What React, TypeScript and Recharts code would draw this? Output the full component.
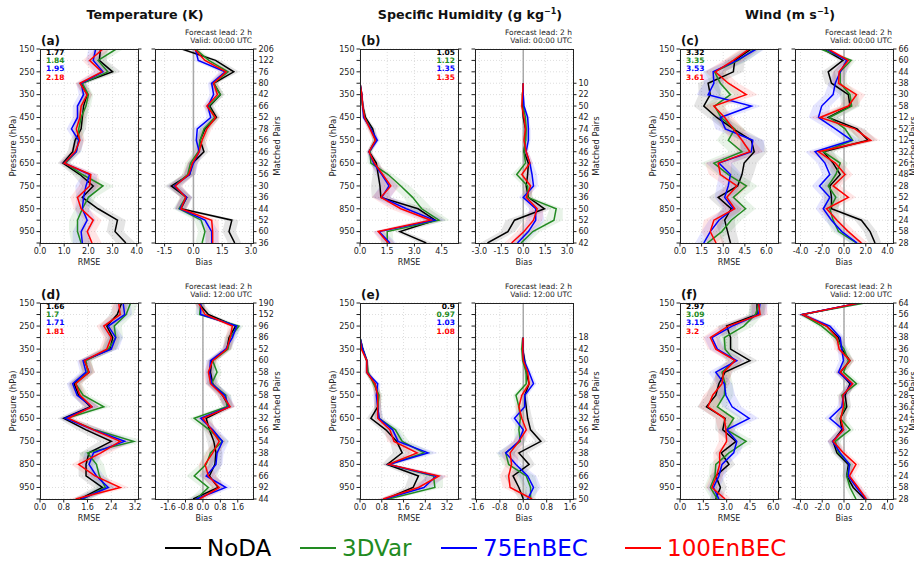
import { ComposedChart, Line, Area, XAxis, YAxis, CartesianGrid, ReferenceLine } from "recharts"

const levels = [150, 200, 250, 300, 350, 400, 450, 500, 550, 600, 650, 700, 750, 800, 850, 900, 950, 1000]
const levelsQ = [300, 350, 400, 450, 500, 550, 600, 650, 700, 750, 800, 850, 900, 950, 1000]

const names = ["NoDA", "3DVar", "75EnBEC", "100EnBEC"]
const colors = ["#000000", "#228b22", "#0000ff", "#ff0000"]

// (a) temperature, 00 UTC  -- rows: NoDA, 3DVar, 75EnBEC, 100EnBEC
const tempRmse00 = [
  [2.5, 2.45, 3.0, 1.7, 1.95, 1.8, 1.75, 1.7, 1.45, 1.35, 0.95, 1.65, 2.2, 1.75, 2.4, 3.2, 3.1, 3.55],
  [3.15, 2.4, 2.8, 1.75, 2.0, 1.9, 1.7, 1.6, 1.6, 1.5, 1.05, 1.75, 2.6, 2.0, 1.75, 1.55, 1.55, 1.7],
  [2.3, 2.2, 2.6, 1.7, 1.8, 1.55, 1.55, 1.3, 1.6, 1.5, 1.0, 2.05, 1.9, 1.8, 1.75, 1.95, 1.7, 1.75],
  [2.6, 2.05, 2.55, 1.65, 1.95, 1.7, 1.65, 1.5, 1.65, 1.45, 1.0, 2.1, 2.05, 1.55, 1.7, 2.2, 1.95, 2.15],
]
const tempRmse00Spread = [0.3, 0.3, 0.35, 0.2, 0.2, 0.2, 0.2, 0.2, 0.2, 0.2, 0.2, 0.3, 0.45, 0.3, 0.3, 0.35, 0.35, 0.4]
const tempBias00 = [
  [-0.6, 1.15, 2.1, 1.05, 1.4, 0.85, 1.2, 0.6, 0.35, 0.55, -0.05, -0.2, -1.15, -0.35, -0.65, 2.0, 1.85, 2.15],
  [0.1, 0.8, 1.8, 1.05, 1.4, 0.8, 1.1, 0.55, 0.35, 0.25, -0.15, -0.3, -1.0, -0.4, -0.75, 0.4, 0.6, 0.45],
  [0.1, 0.25, 1.65, 0.95, 1.05, 0.75, 0.9, 0.2, 0.15, 0.3, 0.0, -0.2, -1.0, -0.35, -0.7, 0.6, 0.95, 0.95],
  [0.05, 0.6, 1.7, 1.05, 1.25, 0.7, 1.15, 0.7, 0.45, 0.3, -0.05, -0.25, -0.95, -0.4, -0.65, 0.95, 1.0, 1.0],
]
const tempBias00Spread = [0.2, 0.25, 0.3, 0.2, 0.2, 0.2, 0.2, 0.25, 0.25, 0.25, 0.25, 0.3, 0.35, 0.3, 0.3, 0.35, 0.35, 0.35]
const tempPairs00 = [206, 122, 76, 80, 42, 66, 52, 78, 56, 46, 32, 56, 30, 36, 44, 52, 60, 36]
const tempMean00 = [1.77, 1.84, 1.95, 2.18]

// (b) specific humidity, 00 UTC
const humRmse00 = [
  [0, 0.1, 0.15, 0.3, 0.7, 0.85, 0.5, 0.9, 1.0, 1.1, 1.15, 3.2, 4.15, 2.2, 3.65],
  [0, 0.05, 0.15, 0.25, 0.6, 0.85, 0.55, 0.6, 1.55, 2.25, 2.9, 3.4, 4.35, 1.5, 1.5],
  [0, 0.1, 0.15, 0.2, 0.6, 0.95, 0.5, 0.75, 1.2, 1.6, 1.2, 2.55, 4.1, 1.05, 1.65],
  [0, 0.1, 0.15, 0.25, 0.55, 0.85, 0.5, 0.8, 1.25, 1.7, 1.15, 2.25, 3.9, 1.0, 1.55],
]
const humRmse00Spread = [0.05, 0.05, 0.08, 0.1, 0.15, 0.15, 0.12, 0.2, 0.3, 0.5, 0.5, 0.6, 0.6, 0.3, 0.35]
const humBias00 = [
  [0, -0.05, -0.05, 0, 0.15, 0.15, 0.05, 0.35, 0.3, 0.2, 0.35, 1.45, -0.6, -1.05, -2.45],
  [0, -0.05, 0, 0.15, 0.2, 0.15, 0.05, 0.15, -0.45, 0.3, 0.3, 2.25, 2.1, 0.65, -0.15],
  [0, 0, 0.05, 0.3, 0.35, 0.35, 0.2, 0.45, 0.6, 0.7, 0, 0.85, 0.85, 0.35, -0.4],
  [0, -0.05, -0.1, 0.05, 0.15, 0.05, 0.2, 0.45, -0.1, 0.5, 0.2, 0.95, 0.7, 0.05, -0.8],
]
const humBias00Spread = [0.05, 0.05, 0.1, 0.1, 0.15, 0.15, 0.15, 0.2, 0.35, 0.3, 0.3, 0.45, 0.6, 0.5, 0.5]
const humPairs00 = [10, 22, 50, 42, 74, 56, 46, 32, 56, 30, 36, 50, 52, 60, 42]
const humMean00 = [1.05, 1.12, 1.35, 1.35]

// (c) wind, 00 UTC
const windRmse00 = [
  [4.95, 3.8, 3.7, 1.95, 2.1, 1.65, 2.55, 3.7, 4.95, 5.15, 4.45, 4.3, 4.0, 2.65, 3.55, 3.1, 3.3, 3.5],
  [5.2, 4.05, 2.4, 2.8, 3.5, 2.4, 2.85, 3.8, 3.35, 4.3, 2.35, 3.35, 4.6, 3.7, 4.55, 3.55, 2.9, 1.9],
  [5.3, 3.95, 2.3, 2.35, 1.95, 4.95, 2.8, 3.15, 5.05, 4.95, 2.7, 3.5, 3.35, 3.1, 3.7, 2.7, 2.1, 1.65],
  [4.8, 3.7, 2.45, 3.35, 4.6, 2.35, 3.1, 3.7, 4.3, 4.85, 2.65, 2.8, 3.95, 3.25, 3.8, 2.35, 2.1, 2.5],
]
const windRmse00Spread = [0.6, 0.7, 0.7, 0.7, 0.8, 0.7, 0.6, 0.7, 0.8, 0.9, 0.9, 0.8, 0.8, 0.7, 0.7, 0.7, 0.6, 0.6]
const windBias00 = [
  [-1.9, -0.1, -1.45, -1.15, 0.4, 0.55, -1.45, 1.2, 2.2, -1.9, -1.0, -0.35, -1.3, -1.15, -1.15, 1.6, 2.4, 2.85],
  [-2.15, 0.65, -0.35, -0.35, 0.55, 0.7, -1.35, 0.1, 0.8, -1.9, -0.35, -0.75, -1.45, -0.75, -1.3, -1.0, -0.5, 1.15],
  [-1.6, 0.25, -0.35, -0.8, -1.0, -2.05, -2.35, -0.8, 0.7, -2.65, -1.75, -1.3, -2.25, -1.3, -1.9, -1.15, -0.2, 1.2],
  [-1.45, 0.4, -0.45, -0.5, 1.15, 0.4, -2.2, 1.0, 2.45, -2.35, -0.8, 0.1, -1.0, 0.4, -1.6, -0.65, 0.4, 1.6],
]
const windBias00Spread = [0.3, 0.4, 0.6, 0.6, 0.8, 0.8, 0.9, 0.7, 0.8, 0.9, 0.7, 0.7, 0.7, 0.7, 0.7, 0.6, 0.6, 0.6]
const windPairs00 = [66, 60, 44, 38, 30, 58, 12, 52, 12, 32, 26, 48, 28, 52, 54, 24, 58, 28]
const windMean00 = [3.32, 3.35, 3.53, 3.61]

// (d) temperature, 12 UTC
const tempRmse12 = [
  [2.75, 2.6, 2.25, 2.45, 2.35, 1.5, 1.65, 1.15, 1.3, 1.7, 0.8, 1.55, 2.4, 1.65, 1.55, 1.55, 2.1, 1.35],
  [3.05, 2.9, 2.5, 2.55, 2.3, 1.55, 1.6, 1.2, 1.45, 2.15, 0.9, 1.85, 3.15, 1.6, 1.9, 2.0, 2.2, 1.45],
  [2.8, 2.85, 2.3, 2.55, 2.4, 1.45, 1.55, 1.1, 1.25, 1.75, 0.85, 1.8, 2.85, 1.8, 1.65, 1.9, 2.3, 1.4],
  [2.65, 2.7, 2.15, 2.4, 2.25, 1.5, 1.65, 1.2, 1.35, 1.75, 0.95, 1.8, 2.7, 2.05, 1.3, 1.85, 2.7, 1.2],
]
const tempRmse12Spread = [0.25, 0.25, 0.25, 0.25, 0.25, 0.2, 0.2, 0.2, 0.2, 0.25, 0.2, 0.3, 0.4, 0.3, 0.25, 0.25, 0.3, 0.25]
const tempBias12 = [
  [-0.2, 0.25, 1.5, 1.2, 1.1, 0.4, 0.35, 0.45, 0.9, 1.2, 0.15, 0.3, 0.5, 0.6, 0.55, 0.3, 0.7, -0.45],
  [-0.1, -0.15, 1.65, 1.25, 1.15, 0.45, 0.65, 0.4, 1.05, 1.1, -0.4, 0.3, 0.9, 0.35, 0.15, -0.4, 0.25, -0.3],
  [-0.1, -0.1, 1.55, 1.35, 1.05, 0.35, 0.3, 0.4, 1.0, 1.2, -0.1, 0.45, 0.9, 0.65, 0.6, 0.15, 1.05, -0.3],
  [-0.2, 0.1, 1.35, 1.25, 1.1, 0.45, 0.25, 0.35, 0.9, 1.25, 0.0, 0.4, 0.75, 0.45, 0.1, 0.25, 0.75, -0.15],
]
const tempBias12Spread = [0.2, 0.2, 0.2, 0.2, 0.2, 0.2, 0.2, 0.25, 0.25, 0.25, 0.25, 0.25, 0.3, 0.3, 0.3, 0.35, 0.3, 0.3]
const tempPairs12 = [190, 152, 96, 86, 52, 60, 58, 76, 58, 44, 32, 56, 54, 38, 44, 66, 92, 44]
const tempMean12 = [1.66, 1.7, 1.71, 1.81]

// (e) specific humidity, 12 UTC
const humRmse12 = [
  [0, 0.1, 0.25, 0.25, 0.55, 0.65, 0.65, 0.4, 0.95, 1.35, 1.55, 1.0, 2.15, 1.95, 0.95],
  [0, 0.1, 0.25, 0.3, 0.5, 0.7, 0.65, 0.7, 1.3, 1.55, 2.35, 1.05, 2.7, 2.75, 1.05],
  [0, 0.1, 0.25, 0.25, 0.65, 0.6, 0.65, 0.7, 1.2, 1.4, 2.5, 1.05, 2.8, 2.35, 0.9],
  [0, 0.05, 0.25, 0.25, 0.55, 0.65, 0.65, 0.65, 1.1, 1.25, 2.1, 1.05, 2.9, 2.15, 0.85],
]
const humRmse12Spread = [0.03, 0.05, 0.05, 0.08, 0.1, 0.12, 0.12, 0.15, 0.2, 0.25, 0.35, 0.2, 0.35, 0.3, 0.2]
const humBias12 = [
  [0, -0.02, 0.05, 0.1, 0.2, 0.05, 0.1, 0.15, 0.25, 0.6, -0.15, 0.2, -0.35, -0.15, 0],
  [-0.02, -0.05, -0.02, 0.1, 0.1, -0.25, -0.15, -0.1, -0.15, -0.1, -0.6, -0.5, 0.1, 0.25, 0.25],
  [0, -0.02, 0.03, 0.2, 0.35, 0.05, 0.05, -0.3, 0, -0.15, -0.6, -0.25, 0.15, 0.35, 0.15],
  [0, -0.02, 0, 0.15, 0.2, -0.05, -0.15, -0.05, 0.1, -0.15, -0.45, -0.4, -0.5, -0.45, 0.3],
]
const humBias12Spread = [0.03, 0.05, 0.05, 0.08, 0.1, 0.1, 0.12, 0.15, 0.15, 0.2, 0.3, 0.2, 0.3, 0.25, 0.15]
const humPairs12 = [18, 42, 50, 54, 76, 58, 44, 32, 56, 54, 38, 50, 66, 92, 50]
const humMean12 = [0.9, 0.97, 1.03, 1.08]

// (f) wind, 12 UTC
const windRmse12 = [
  [4.95, 4.95, 3.0, 3.25, 3.25, 4.5, 2.9, 2.5, 2.3, 1.7, 2.9, 2.75, 3.6, 2.65, 3.15, 2.3, 2.6, 2.3],
  [5.1, 4.85, 4.1, 2.85, 2.9, 3.5, 2.7, 2.9, 2.85, 2.4, 3.45, 3.0, 4.25, 3.15, 2.3, 2.25, 1.95, 2.4],
  [5.15, 5.05, 3.35, 2.05, 2.4, 3.65, 2.3, 2.85, 2.95, 3.35, 4.45, 3.0, 3.65, 3.45, 2.7, 2.5, 2.15, 2.5],
  [5.05, 5.15, 3.1, 1.95, 2.3, 3.55, 2.8, 2.7, 2.1, 1.8, 2.85, 2.95, 3.0, 2.55, 2.55, 2.35, 2.05, 2.9],
]
const windRmse12Spread = [0.5, 0.5, 0.6, 0.5, 0.5, 0.5, 0.5, 0.5, 0.6, 0.6, 0.6, 0.5, 0.5, 0.4, 0.4, 0.4, 0.4, 0.4]
const windBias12 = [
  [1.45, -3.8, -1.6, -0.5, -0.2, 0.55, -0.35, 0.55, 0.1, 0.25, -0.35, -0.2, -1.0, -0.65, 0.4, 0.25, 0.85, 1.9],
  [1.9, -3.85, -2.05, -0.8, 0, 0.4, -0.05, 1.15, -0.2, 0.1, -0.35, 0.55, -0.8, -0.5, 0.55, 0.25, 0.55, 1.1],
  [1.4, -3.85, -1.3, -0.35, -0.2, -0.05, -0.5, 0.7, -0.05, -0.2, -1.3, -0.05, -1.05, -0.35, 0.5, 0.4, 1.15, 2.0],
  [1.4, -3.8, -1.6, -0.65, -0.45, 0.55, -0.35, 0.8, -0.1, -0.05, -0.3, -0.05, -1.0, -0.05, 1.1, 0.5, 1.3, 2.05],
]
const windBias12Spread = [0.3, 0.4, 0.4, 0.4, 0.4, 0.4, 0.4, 0.4, 0.4, 0.4, 0.5, 0.4, 0.5, 0.4, 0.4, 0.4, 0.4, 0.4]
const windPairs12 = [64, 56, 44, 38, 36, 70, 36, 56, 28, 36, 24, 52, 36, 52, 56, 24, 58, 28]
const windMean12 = [2.97, 3.09, 3.15, 3.2]

// layout (pixels)
const PW = 98
const rmseLeft = [40, 360, 680]
const biasLeft = [155, 475, 795]
const pairsLabelX = [277, 596, 913]
const rowTop = [49, 303]
const rowH = [194, 196]
const font = "DejaVu Sans"
const tickStyle = { fontSize: 8, fill: "#222", fontFamily: font }

function buildRows(lv: number[], vals: number[][], spread: number[]) {
  return lv.map((p, i) => {
    const row: any = { p }
    vals.forEach((s, k) => {
      row["v" + k] = s[i]
      row["r" + k] = [s[i] - spread[i], s[i] + spread[i]]
    })
    return row
  })
}

function T({ x, y, size = 8, bold = false, color = "#222", anchor = "middle", rotate = false, children }: any) {
  const tx = anchor === "middle" ? "-50%" : anchor === "end" ? "-100%" : "0"
  return (
    <div
      style={{
        position: "absolute",
        left: x,
        top: y,
        transform: rotate ? "translate(-50%,-50%) rotate(-90deg)" : `translate(${tx},-50%)`,
        fontSize: size,
        fontWeight: bold ? "bold" : "normal",
        color,
        whiteSpace: "nowrap",
        lineHeight: 1,
        fontFamily: font,
      }}
    >
      {children}
    </div>
  )
}

function Profile({ left, top, h, rows, domain, ticks, lv, kind, pairs }: any) {
  const LW = kind === "rmse" ? 40 : 14
  const RW = kind === "rmse" ? 10 : 30
  const MT = 4
  const XH = 20
  return (
    <>
      <div style={{ position: "absolute", left: left - LW, top: top - MT }}>
        <ComposedChart
          layout="vertical"
          width={LW + PW + RW}
          height={MT + h + XH}
          data={rows}
          margin={{ top: MT, right: 0, bottom: 0, left: 0 }}
        >
          <CartesianGrid stroke="#dedede" strokeDasharray="1 2" />
          <XAxis
            type="number"
            domain={domain}
            ticks={ticks}
            interval={0}
            allowDataOverflow
            height={XH}
            tickSize={3.5}
            tickMargin={2}
            axisLine={false}
            tickLine={{ stroke: "#222" }}
            tick={tickStyle}
            tickFormatter={(v: number) => v.toFixed(1)}
          />
          <YAxis
            type="number"
            dataKey="p"
            domain={[150, 1000]}
            ticks={levels}
            interval={0}
            allowDataOverflow
            width={LW}
            tickSize={3.5}
            tickMargin={2}
            axisLine={false}
            tickLine={{ stroke: "#222" }}
            tick={tickStyle}
            tickFormatter={(v: number) => (kind === "rmse" && (v - 150) % 100 === 0 && v < 1000 ? String(v) : "")}
          />
          <YAxis
            yAxisId="r"
            orientation="right"
            type="number"
            dataKey="p"
            domain={[150, 1000]}
            ticks={kind === "rmse" ? levels : lv}
            interval={0}
            allowDataOverflow
            width={RW}
            tickSize={3.5}
            tickMargin={2}
            axisLine={false}
            tickLine={{ stroke: "#222" }}
            tick={tickStyle}
            tickFormatter={(v: number) => (kind === "rmse" ? "" : String(pairs[lv.indexOf(v)]))}
          />
          {kind === "bias" && <ReferenceLine x={0} stroke="#a8a8a8" strokeWidth={1.5} />}
          {colors.map((c, k) => (
            <Area
              key={"a" + k}
              dataKey={"r" + k}
              type="linear"
              fill={c}
              fillOpacity={0.1}
              stroke="none"
              isAnimationActive={false}
            />
          ))}
          {colors.map((c, k) => (
            <Line
              key={"l" + k}
              dataKey={"v" + k}
              type="linear"
              stroke={c}
              strokeWidth={1.5}
              dot={false}
              isAnimationActive={false}
            />
          ))}
        </ComposedChart>
      </div>
      <div
        style={{
          position: "absolute",
          left,
          top,
          width: PW + 1,
          height: h + 1,
          border: "1px solid #222",
          boxSizing: "border-box",
          pointerEvents: "none",
        }}
      />
    </>
  )
}

function Pair({ col, row, letter, lv, rmse, rmseSpread, rmseDomain, rmseTicks, bias, biasSpread, biasDomain, biasTicks, pairs, means, valid }: any) {
  const top = rowTop[row]
  const h = rowH[row]
  const rl = rmseLeft[col]
  const bl = biasLeft[col]
  const meansRight = col === 1
  return (
    <>
      <Profile left={rl} top={top} h={h} rows={buildRows(lv, rmse, rmseSpread)} domain={rmseDomain} ticks={rmseTicks} lv={lv} kind="rmse" />
      <Profile left={bl} top={top} h={h} rows={buildRows(lv, bias, biasSpread)} domain={biasDomain} ticks={biasTicks} lv={lv} kind="bias" pairs={pairs} />
      <T x={rl + 1} y={top - 8} size={12} bold color="#111" anchor="start">{letter}</T>
      {means.map((m: number, k: number) => (
        <T key={k} x={meansRight ? rl + PW - 3 : rl + 6} y={top + 4 + k * 8.2} size={7.5} bold color={colors[k]} anchor={meansRight ? "end" : "start"}>
          {String(m)}
        </T>
      ))}
      <T x={bl + PW - 1} y={top - 16} size={7.5} anchor="end">Forecast lead: 2 h</T>
      <T x={bl + PW - 1} y={top - 8} size={7.5} anchor="end">{valid}</T>
      <T x={rl - 27} y={top + h / 2} size={8.5} rotate>Pressure (hPa)</T>
      <T x={pairsLabelX[col]} y={top + h / 2} size={8.5} rotate>Matched Pairs</T>
      <T x={rl + PW / 2} y={top + h + 20} size={8}>RMSE</T>
      <T x={bl + PW / 2} y={top + h + 20} size={8}>Bias</T>
    </>
  )
}

export default function App() {
  return (
    <div style={{ position: "absolute", left: 0, top: 0, width: 914, height: 564, overflow: "hidden", background: "#fff", fontFamily: font }}>
      <T x={145} y={15} size={12.7} bold color="#111">Temperature (K)</T>
      <T x={470} y={15} size={12.7} bold color="#111">
        Specific Humidity (g kg<sup style={{ fontSize: 8 }}>−1</sup>)
      </T>
      <T x={790} y={15} size={12.7} bold color="#111">
        Wind (m s<sup style={{ fontSize: 8 }}>−1</sup>)
      </T>

      <Pair col={0} row={0} letter="(a)" lv={levels} rmse={tempRmse00} rmseSpread={tempRmse00Spread} rmseDomain={[0, 4.05]} rmseTicks={[0, 1, 2, 3, 4]}
        bias={tempBias00} biasSpread={tempBias00Spread} biasDomain={[-2.0, 3.1]} biasTicks={[-1.5, 0, 1.5, 3]} pairs={tempPairs00} means={tempMean00} valid="Valid: 00:00 UTC" />
      <Pair col={1} row={0} letter="(b)" lv={levelsQ} rmse={humRmse00} rmseSpread={humRmse00Spread} rmseDomain={[0, 5.4]} rmseTicks={[0, 1.5, 3, 4.5]}
        bias={humBias00} biasSpread={humBias00Spread} biasDomain={[-3.3, 3.4]} biasTicks={[-3, -1.5, 0, 1.5, 3]} pairs={humPairs00} means={humMean00} valid="Valid: 00:00 UTC" />
      <Pair col={2} row={0} letter="(c)" lv={levels} rmse={windRmse00} rmseSpread={windRmse00Spread} rmseDomain={[0, 6.8]} rmseTicks={[0, 1.5, 3, 4.5, 6]}
        bias={windBias00} biasSpread={windBias00Spread} biasDomain={[-4.5, 4.5]} biasTicks={[-4, -2, 0, 2, 4]} pairs={windPairs00} means={windMean00} valid="Valid: 00:00 UTC" />
      <Pair col={0} row={1} letter="(d)" lv={levels} rmse={tempRmse12} rmseSpread={tempRmse12Spread} rmseDomain={[0, 3.3]} rmseTicks={[0, 0.8, 1.6, 2.4, 3.2]}
        bias={tempBias12} biasSpread={tempBias12Spread} biasDomain={[-2.2, 2.3]} biasTicks={[-1.6, -0.8, 0, 0.8, 1.6]} pairs={tempPairs12} means={tempMean12} valid="Valid: 12:00 UTC" />
      <Pair col={1} row={1} letter="(e)" lv={levelsQ} rmse={humRmse12} rmseSpread={humRmse12Spread} rmseDomain={[0, 3.6]} rmseTicks={[0, 0.8, 1.6, 2.4, 3.2]}
        bias={humBias12} biasSpread={humBias12Spread} biasDomain={[-1.65, 1.7]} biasTicks={[-1.6, -0.8, 0, 0.8, 1.6]} pairs={humPairs12} means={humMean12} valid="Valid: 12:00 UTC" />
      <Pair col={2} row={1} letter="(f)" lv={levels} rmse={windRmse12} rmseSpread={windRmse12Spread} rmseDomain={[0, 6.3]} rmseTicks={[0, 1.5, 3, 4.5, 6]}
        bias={windBias12} biasSpread={windBias12Spread} biasDomain={[-4.5, 4.5]} biasTicks={[-4, -2, 0, 2, 4]} pairs={windPairs12} means={windMean12} valid="Valid: 12:00 UTC" />

      {names.map((n, k) => {
        const lx = [165, 300, 441, 625][k]
        return (
          <div key={n}>
            <div style={{ position: "absolute", left: lx, top: 547, width: 36, height: 2, background: colors[k] }} />
            <T x={lx + 42} y={548} size={23} color={colors[k]} anchor="start">{n}</T>
          </div>
        )
      })}
    </div>
  )
}
